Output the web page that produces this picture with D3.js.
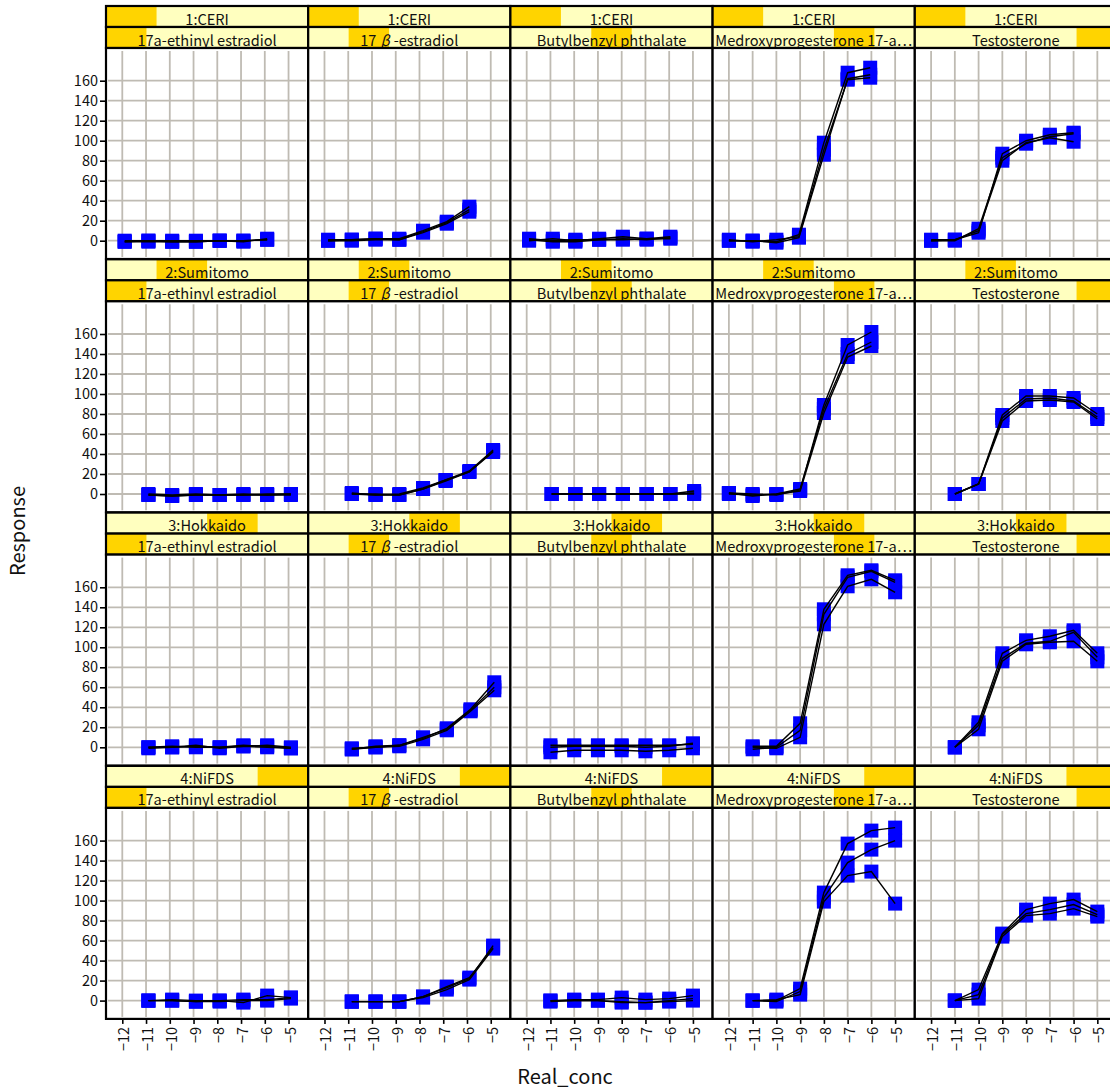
<!DOCTYPE html>
<html>
<head>
<meta charset="utf-8">
<script src="https://cdn.jsdelivr.net/npm/d3@7"></script>
<style>
  html, body { margin: 0; padding: 0; background: #fff; }
  svg { display: block; font-family: "Noto Sans CJK JP", "Noto Sans", sans-serif; }
</style>
</head>
<body>
<svg id="chart" width="1110" height="1090"></svg>
<script>
// Conditioning factors
const labs = ["1:CERI", "2:Sumitomo", "3:Hokkaido", "4:NiFDS"];
const chemicals = ["17a-ethinyl estradiol", "17β-estradiol", "Butylbenzyl phthalate",
                   "Medroxyprogesterone 17-a…", "Testosterone"];

// Axis ticks
const xTicks = [-12, -11, -10, -9, -8, -7, -6, -5];
const xTickLabels = ["−12", "−11", "−10", "−9", "−8", "−7", "−6", "−5"];
const yTicks = [0, 20, 40, 60, 80, 100, 120, 140, 160];

// log concentration per chemical (order as in `chemicals`), one array per lab
const ceriConc = [
  [-11.9, -10.9, -9.9, -8.9, -7.9, -6.9, -5.9],
  [-11.85, -10.85, -9.85, -8.85, -7.85, -6.85, -5.9],
  [-11.9, -10.9, -9.95, -8.95, -7.95, -6.95, -5.95],
  [-12, -11, -10, -9.05, -8, -7, -6.05],
  [-12, -11, -10, -9, -8, -7, -6]
];
const sumitomoConc = [
  [-10.9, -9.9, -8.9, -7.9, -6.9, -5.9, -4.9],
  [-10.85, -9.85, -8.85, -7.85, -6.9, -5.9, -4.9],
  [-10.95, -9.95, -8.95, -7.95, -6.95, -5.95, -4.95],
  [-12, -11, -10, -9, -8, -7, -6],
  [-11, -10, -9, -8, -7, -6, -5]
];
const hokkaidoConc = [
  [-10.9, -9.9, -8.9, -7.9, -6.9, -5.9, -4.9],
  [-10.85, -9.85, -8.85, -7.85, -6.85, -5.85, -4.85],
  [-11, -10, -9, -8, -7, -6, -5],
  [-11, -10, -9, -8, -7, -6, -5],
  [-11, -10, -9, -8, -7, -6, -5]
];
const nifdsConc = [
  [-10.9, -9.9, -8.9, -7.9, -6.9, -5.9, -4.9],
  [-10.85, -9.85, -8.85, -7.85, -6.85, -5.9, -4.9],
  [-11, -10, -9, -8, -7, -6, -5],
  [-11, -10, -9, -8, -7, -6, -5],
  [-11, -10, -9, -8, -7, -6, -5]
];

// Responses: per chemical, three replicate runs
const ceriResp = [
  [[-1, -1, -1, -1, 0, -1, 2], [0, 0, 0, 0, 0, 0, 1], [-1, 0, -1, -1, 0, 0, 1]],
  [[0, 1, 2, 2, 10, 19, 34], [0, 0, 1, 1, 8, 17, 29], [1, 1, 2, 1, 9, 18, 31]],
  [[1, -1, -1, 1, 2, 1, 3], [0, 2, 0, 2, 4, 2, 4], [2, 0, 1, 1, 1, 2, 2]],
  [[0, 0, -1, 6, 98, 168, 173], [1, -1, 1, 4, 91, 161, 163], [0, 0, -2, 3, 86, 162, 166]],
  [[0, 1, 8, 87, 100, 106, 108], [0, 0, 12, 83, 97, 104, 107], [1, 1, 10, 80, 98, 103, 99]]
];
const sumitomoResp = [
  [[-1, -2, -1, -1, -1, -1, 0], [0, -1, 0, -1, -1, 0, 0], [-1, -2, -1, -1, 0, -1, -1]],
  [[0, -1, -1, 5, 13, 22, 43], [1, -1, 0, 6, 14, 23, 44], [0, 0, -1, 5, 14, 22, 42]],
  [[0, 0, 0, 0, 0, 0, 1], [0, 0, 0, 0, 0, 0, 3], [0, 0, 0, 0, 0, 0, 0]],
  [[1, 0, -1, 4, 89, 149, 162], [0, -1, 0, 5, 85, 140, 152], [1, -2, 0, 3, 81, 137, 148]],
  [[0, 10, 79, 98, 98, 96, 80], [0, 10, 76, 95, 96, 93, 77], [0, 10, 73, 93, 94, 92, 75]]
];
const hokkaidoResp = [
  [[0, 0, 1, 0, 2, 1, -1], [-1, 0, 2, -1, 1, 2, 0], [0, 1, 0, 0, 1, 0, -1]],
  [[-2, 0, 2, 9, 19, 38, 65], [-1, 0, 1, 8, 17, 36, 57], [-2, 1, 2, 10, 18, 37, 60]],
  [[0, 1, 1, 1, 0, 1, 4], [2, 2, 2, 2, 2, 2, 3], [-5, -3, -3, -3, -4, -3, -1]],
  [[1, 1, 24, 138, 172, 177, 167], [-2, 0, 17, 133, 170, 176, 165], [0, -1, 10, 123, 161, 168, 155]],
  [[0, 25, 94, 107, 111, 117, 94], [0, 22, 89, 104, 106, 115, 90], [0, 18, 86, 103, 105, 106, 86]]
];
const nifdsResp = [
  [[0, 0, -1, 0, -2, 5, 3], [0, 0, -1, -1, 0, 0, 2], [0, 1, 0, 0, 1, 1, 3]],
  [[-1, -1, -1, 4, 13, 22, 55], [-1, -1, -1, 3, 11, 21, 52], [-1, -1, -1, 4, 14, 23, 53]],
  [[0, 1, 1, 3, 1, 2, 5], [0, 0, 0, -1, -2, 0, 2], [-1, 0, 0, -2, -2, -1, 0]],
  [[0, 0, 12, 108, 157, 170, 173], [0, -1, 9, 103, 138, 151, 160], [0, 1, 6, 99, 125, 129, 97]],
  [[0, 11, 67, 91, 97, 101, 89], [0, 6, 66, 87, 91, 96, 86], [0, 2, 64, 85, 87, 92, 84]]
];

const concByLab = [ceriConc, sumitomoConc, hokkaidoConc, nifdsConc];
const respByLab = [ceriResp, sumitomoResp, hokkaidoResp, nifdsResp];

// Layout
const colX0 = 106, colStep = 202.2;
const rowY0 = 6, rowStep = 253.3;
const stripH = 21, panelH = 211;
const stripFill = "#ffffbf", stripLevel = "#ffd400";
const gridCol = "#bfbbb3", pointCol = "#0000ff";

const svg = d3.select("#chart");

const xDomain = [-12.686, -4.172];
const yDomain = [-18.3, 192.7];

// Greek letters get a full-width cell in the strip labels
function stripLabel(sel, str) {
  let afterGreek = false;
  str.split(/(β)/).filter(s => s.length).forEach(part => {
    const t = sel.append("tspan").text(part);
    if (part === "β") {
      t.attr("dx", 4).attr("font-style", "italic");
      afterGreek = true;
    } else if (afterGreek) {
      t.attr("dx", 4);
      afterGreek = false;
    }
  });
}

labs.forEach((lab, r) => {
  const top = rowY0 + r * rowStep;
  const pTop = top + 2 * stripH;
  const pBot = pTop + panelH;
  const y = d3.scaleLinear().domain(yDomain).range([pBot, pTop]);

  chemicals.forEach((chem, c) => {
    const left = colX0 + c * colStep;
    const right = left + colStep;
    const x = d3.scaleLinear().domain(xDomain).range([left, right]);
    const g = svg.append("g");

    // strips: lab on top, chemical below, with shaded level indicator
    const strips = [
      { text: lab, level: r, n: labs.length, y0: top },
      { text: chem, level: c, n: chemicals.length, y0: top + stripH }
    ];
    const sw = right - left;
    strips.forEach(s => {
      g.append("rect").attr("x", left).attr("y", s.y0).attr("width", sw).attr("height", stripH)
        .attr("fill", stripFill);
      g.append("rect").attr("x", left + sw * s.level / s.n).attr("y", s.y0)
        .attr("width", sw / s.n).attr("height", stripH).attr("fill", stripLevel);
      const t = g.append("text").attr("x", (left + right) / 2).attr("y", s.y0 + stripH / 2 + 1)
        .attr("text-anchor", "middle").attr("dominant-baseline", "central")
        .attr("font-size", 14.6).attr("fill", "#111");
      stripLabel(t, s.text);
      g.append("rect").attr("x", left).attr("y", s.y0).attr("width", sw).attr("height", stripH)
        .attr("fill", "none").attr("stroke", "#000").attr("stroke-width", 2.2);
    });

    // panel background and grid
    g.append("rect").attr("x", left).attr("y", pTop).attr("width", sw).attr("height", panelH)
      .attr("fill", "#fff");
    g.selectAll(".vg").data(xTicks).join("line")
      .attr("x1", d => x(d)).attr("x2", d => x(d))
      .attr("y1", pTop + 3).attr("y2", pBot - 2)
      .attr("stroke", gridCol).attr("stroke-width", 1.8);
    g.selectAll(".hg").data(yTicks).join("line")
      .attr("x1", left + 2).attr("x2", right - 2)
      .attr("y1", d => y(d)).attr("y2", d => y(d))
      .attr("stroke", gridCol).attr("stroke-width", 1.8);

    // points then replicate lines
    const conc = concByLab[r][c];
    const reps = respByLab[r][c];
    const sz = 14;
    reps.forEach(vals => {
      g.selectAll(null).data(vals).join("rect")
        .attr("x", (d, i) => x(conc[i]) - sz / 2)
        .attr("y", d => y(d) - sz / 2)
        .attr("width", sz).attr("height", sz)
        .attr("fill", pointCol);
    });
    const line = d3.line().x((d, i) => x(conc[i])).y(d => y(d));
    reps.forEach(vals => {
      g.append("path").attr("d", line(vals)).attr("fill", "none")
        .attr("stroke", "#000").attr("stroke-width", 1.4);
    });

    // panel border
    g.append("rect").attr("x", left).attr("y", pTop).attr("width", sw).attr("height", panelH)
      .attr("fill", "none").attr("stroke", "#000").attr("stroke-width", 2.2);

    // y axis on first column
    if (c === 0) {
      const ya = d3.axisLeft(y).tickValues(yTicks).tickSize(6).tickPadding(2);
      const ag = svg.append("g").attr("transform", `translate(${left},0)`).call(ya);
      ag.select(".domain").remove();
      ag.selectAll(".tick line").attr("stroke", "#000").attr("stroke-width", 1.6);
      ag.selectAll(".tick text").attr("font-size", 14.5).attr("fill", "#111")
        .attr("font-family", "'Noto Sans CJK JP', sans-serif");
    }

    // x axis on bottom row
    if (r === labs.length - 1) {
      const xa = d3.axisBottom(x).tickValues(xTicks).tickSize(5)
        .tickFormat((d, i) => xTickLabels[i]);
      const ag = svg.append("g").attr("transform", `translate(0,${pBot})`).call(xa);
      ag.select(".domain").remove();
      ag.selectAll(".tick line").attr("stroke", "#000").attr("stroke-width", 1.6);
      ag.selectAll(".tick text").attr("font-size", 14.5).attr("fill", "#111")
        .attr("font-family", "'Noto Sans CJK JP', sans-serif")
        .attr("transform", "rotate(-90)")
        .attr("text-anchor", "end").attr("dominant-baseline", "central")
        .attr("x", -8).attr("y", 0).attr("dy", null);
    }
  });
});

// axis titles
svg.append("text").attr("x", 565).attr("y", 1084).attr("text-anchor", "middle")
  .attr("font-size", 20).attr("fill", "#111").text("Real_conc");
svg.append("text").attr("transform", "translate(25,531) rotate(-90)")
  .attr("text-anchor", "middle").attr("font-size", 20).attr("fill", "#111").text("Response");
</script>
</body>
</html>
